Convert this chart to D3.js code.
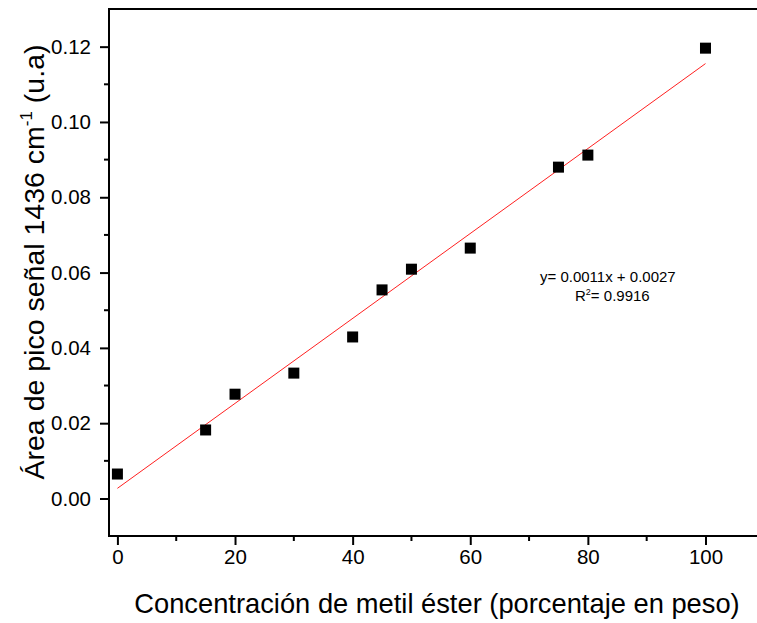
<!DOCTYPE html>
<meta charset="utf-8">
<style>
body { margin: 0; background: #fff; }
text { font-family: Arial, "Liberation Sans", sans-serif; }
</style>
<body>
<script src="https://d3js.org/d3.v7.min.js"></script>
<script>

// data
var conc = [0, 15, 20, 30, 40, 45, 50, 60, 75, 80, 100];
var area = [0.0065, 0.0182, 0.0277, 0.0333, 0.0429, 0.0554, 0.0609, 0.0665, 0.0880, 0.0912, 0.1196];
var fitX = [0, 100];
var fitY = [0.0027, 0.1155];
var xTicks = [0, 20, 40, 60, 80, 100];
var yTicks = [0, 0.02, 0.04, 0.06, 0.08, 0.10, 0.12];
var xMinor = [10, 30, 50, 70, 90];
var yMinor = [0.01, 0.03, 0.05, 0.07, 0.09, 0.11];

// set the dimensions and margins of the graph
var margin = {top: 9, right: 0, bottom: 87, left: 109},
    W = 757, H = 623,
    width = 660,
    height = H - margin.top - margin.bottom;

var x = d3.scaleLinear().domain([-1.43, 110.8]).range([0, width]);
var y = d3.scaleLinear().domain([-0.00996, 0.130]).range([height, 0]);

var svg = d3.select("body").append("svg")
    .attr("width", W)
    .attr("height", H)
  .append("g")
    .attr("transform", "translate(" + margin.left + "," + margin.top + ")");

// top frame line
svg.append("line")
    .attr("x1", 0).attr("x2", width)
    .attr("y1", 0).attr("y2", 0)
    .attr("stroke", "#000").attr("stroke-width", 2);

// x axis
var xAxis = svg.append("g")
    .attr("transform", "translate(0," + height + ")")
    .call(d3.axisBottom(x).tickValues(xTicks).tickSize(9).tickPadding(4).tickFormat(d3.format("d")));
xAxis.append("g").selectAll("line").data(xMinor).enter().append("line")
    .attr("x1", function(d) { return x(d); }).attr("x2", function(d) { return x(d); })
    .attr("y1", 0).attr("y2", 5).attr("stroke", "#000").attr("stroke-width", 2);

// y axis
var yAxis = svg.append("g")
    .call(d3.axisLeft(y).tickValues(yTicks).tickSize(9).tickPadding(9).tickFormat(d3.format(".2f")));
yAxis.append("g").selectAll("line").data(yMinor).enter().append("line")
    .attr("y1", function(d) { return y(d); }).attr("y2", function(d) { return y(d); })
    .attr("x1", 0).attr("x2", -5).attr("stroke", "#000").attr("stroke-width", 2);

xAxis.select(".domain").remove();
yAxis.select(".domain").remove();
svg.append("line").attr("x1", 0).attr("x2", width).attr("y1", height).attr("y2", height)
    .attr("stroke", "#000").attr("stroke-width", 2);
svg.append("line").attr("x1", 0).attr("x2", 0).attr("y1", -1).attr("y2", height + 1)
    .attr("stroke", "#000").attr("stroke-width", 2);

svg.selectAll(".tick line").attr("stroke-width", 2);
svg.selectAll(".tick text").attr("font-size", "20.5px").attr("fill", "#000");

// fit line
svg.append("path")
    .datum(d3.zip(fitX, fitY))
    .attr("fill", "none")
    .attr("stroke", "#ff2020")
    .attr("stroke-width", 1)
    .attr("d", d3.line().x(function(d) { return x(d[0]); }).y(function(d) { return y(d[1]); }));

// points
var s = 11;
svg.selectAll(".pt").data(d3.zip(conc, area)).enter().append("rect")
    .attr("class", "pt")
    .attr("x", function(d) { return x(d[0]) - s / 2; })
    .attr("y", function(d) { return y(d[1]) - s / 2; })
    .attr("width", s).attr("height", s)
    .attr("fill", "#000");

// equation
svg.append("text")
    .attr("x", 540 - margin.left).attr("y", 282 - margin.top)
    .attr("font-size", "15px")
    .text("y= 0.0011x + 0.0027");
var r2 = svg.append("text")
    .attr("x", 575 - margin.left).attr("y", 301 - margin.top)
    .attr("font-size", "15px");
r2.append("tspan").text("R");
r2.append("tspan").attr("dy", -6).attr("font-size", "9px").text("2");
r2.append("tspan").attr("dy", 6).text("= 0.9916");

// axis titles
svg.append("text")
    .attr("x", 437 - margin.left).attr("y", 613 - margin.top)
    .attr("text-anchor", "middle")
    .attr("font-size", "27.3px")
    .text("Concentración de metil éster (porcentaje en peso)");

var yt = svg.append("text")
    .attr("transform", "translate(" + (44 - margin.left) + "," + (262 - margin.top) + ") rotate(-90)")
    .attr("text-anchor", "middle")
    .attr("font-size", "28.5px");
yt.append("tspan").text("Área de pico señal 1436 cm");
yt.append("tspan").attr("dy", -12).attr("font-size", "17px").text("-1");
yt.append("tspan").attr("dy", 12).text(" (u.a)");

</script>
</body>
